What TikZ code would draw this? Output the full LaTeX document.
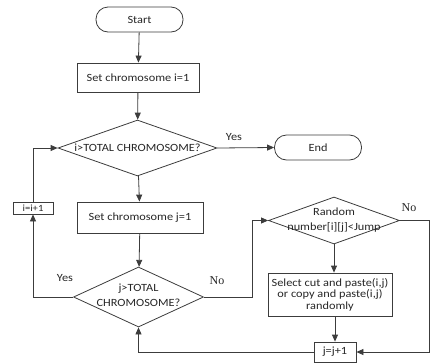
\documentclass[tikz,border=0pt]{standalone}
\usepackage{fontspec}
\setmainfont{Carlito}[FakeStretch=1.12]
\newfontfamily\serifno{Liberation Serif}
\usetikzlibrary{shapes.geometric,arrows.meta}
\definecolor{ln}{HTML}{3C3C3C}
\definecolor{tx}{HTML}{262626}
\tikzset{
  base/.style={draw=ln,line width=0.8pt,text=tx,font=\fontsize{11}{11.5}\selectfont},
  term/.style={base,rectangle,rounded corners=12pt,minimum width=87pt,minimum height=25pt,inner sep=0pt},
  proc/.style={base,rectangle,inner sep=0pt},
  dec/.style={base,diamond,inner sep=0pt,aspect=1},
  txt/.style={text=tx,font=\fontsize{11}{15}\selectfont,align=center,inner sep=0pt},
  lbl/.style={text=tx,font=\fontsize{11}{12}\selectfont,inner sep=0pt},
  lblno/.style={text=tx,font=\serifno\fontsize{12}{13}\selectfont,inner sep=0pt},
  flow/.style={draw=ln,line width=0.8pt,-{Triangle[length=7pt,width=6pt]}},
  plain/.style={draw=ln,line width=0.8pt}
}
\begin{document}
\begin{tikzpicture}[x=1pt,y=-1pt]
\useasboundingbox (0,0) rectangle (430,362);
\node[term] (start) at (139.5,19.5) {Start};
\node[proc,minimum width=122pt,minimum height=29pt] (seti) at (138,77.5) {Set chromosome i=1};
\node[dec,minimum width=159pt,minimum height=56pt] (d1) at (137.5,148) {};
\node[txt] (d1t) at (d1.center) {i>TOTAL CHROMOSOME?};
\node[term] (end) at (318,147.5) {End};
\node[proc,minimum width=126pt,minimum height=31pt] (setj) at (140,217.5) {Set chromosome j=1};
\node[proc,minimum width=40pt,minimum height=12pt,font=\fontsize{9.5}{10}\selectfont] (inci) at (33,208) {i=i+1};
\node[dec,minimum width=130pt,minimum height=60pt] (d2) at (138.5,297) {};
\node[txt] (d2t) at (138.5,295.5) {j>TOTAL\\CHROMOSOME?};
\node[dec,minimum width=131pt,minimum height=47pt] (d3) at (334,220.5) {};
\node[txt] (d3t) at (334,220.5) {Random\\number[i][j]<Jump};
\node[proc,minimum width=124pt,minimum height=43pt,align=center] (sel) at (330,294.5) {Select cut and paste(i,j)\\or copy and paste(i,j)\\randomly};
\node[proc,minimum width=42pt,minimum height=20pt] (jinc) at (335,352) {j=j+1};
\coordinate (cA) at (33,297);
\coordinate (cB) at (33,148);
\coordinate (cC) at (252,297);
\coordinate (cD) at (252,220.5);
\coordinate (cE) at (429.6,220.5);
\coordinate (cF) at (429.6,352);
\coordinate (cG) at (138.5,352);
\draw[flow] (start) -- (seti);
\draw[flow] (seti) -- (d1);
\draw[flow] (d1) -- (setj);
\draw[flow] (setj) -- (d2);
\draw[flow] (d1.east) -- (end.west);
\draw[flow] (d2.west) -- (cA) -- (inci.south);
\draw[flow] (inci.north) -- (cB) -- (d1.west);
\draw[flow] (d2.east) -- (cC) -- (cD) -- (d3.west);
\draw[flow] (d3.east) -- (cE) -- (cF) -- (jinc.east);
\draw[flow] (d3.south) -- (d3.south |- sel.north);
\draw[flow] (jinc.north |- sel.south) -- (jinc.north);
\draw[flow] (jinc.west) -- (cG) -- (d2.south);
\node[lbl] (y1) at (234,137) {Yes};
\node[lbl] (y2) at (65,278) {Yes};
\node[lblno] (n1) at (217,281) {No};
\node[lblno] (n2) at (409,208) {No};
\end{tikzpicture}
\end{document}
